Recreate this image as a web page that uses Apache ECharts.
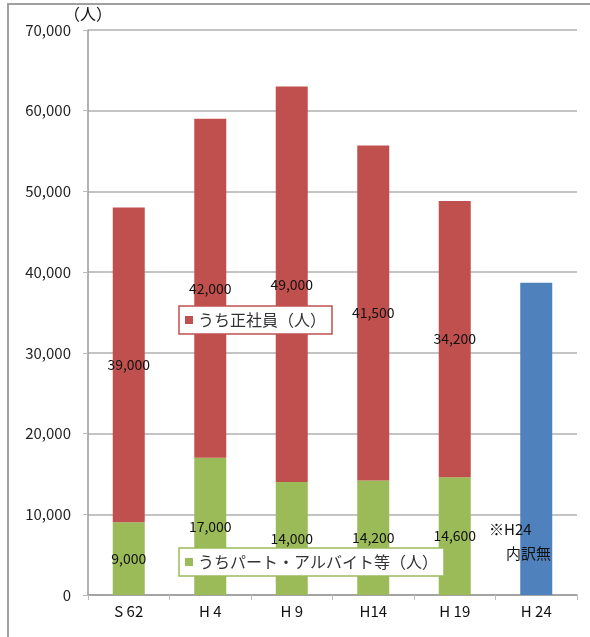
<!DOCTYPE html>
<html>
<head>
<meta charset="utf-8">
<script src="https://cdn.jsdelivr.net/npm/echarts@6/dist/echarts.min.js"></script>
<style>
  html, body { margin: 0; padding: 0; background: #fff; }
  #chart { width: 590px; height: 637px; }
</style>
</head>
<body>
<div id="chart"></div>
<script>
// 年次ラベル
const categories = ['S 62', 'H 4', 'H 9', 'H14', 'H 19', 'H 24']
// うちパート・アルバイト等
const partTime = [9000, 17000, 14000, 14200, 14600, null]
// うち正社員
const regular = [39000, 42000, 49000, 41500, 34200, null]
// H24 は内訳なし（合計のみ）
const totalOnly = [null, null, null, null, null, 38700]
const yTicks = [0, 10000, 20000, 30000, 40000, 50000, 60000, 70000]

const font = "'Noto Sans CJK JP', sans-serif"
const fmt = v => Number(v).toLocaleString('en-US')

const chart = echarts.init(document.getElementById('chart'))

const segLabel = {
  show: true,
  position: 'inside',
  color: '#111',
  fontSize: 14,
  fontFamily: font,
  formatter: p => fmt(p.value)
}

chart.setOption({
  animation: false,
  textStyle: { fontFamily: font },
  grid: { left: 88, right: 13, top: 30, bottom: 42 },
  legend: [{
    data: ['うち正社員（人）'],
    left: 179, top: 306,
    icon: 'rect', itemWidth: 8, itemHeight: 8, itemGap: 4,
    padding: [6, 6, 6, 6],
    backgroundColor: '#fff',
    borderColor: '#C0504D', borderWidth: 1.5,
    textStyle: { fontSize: 16, color: '#333', fontFamily: font }
  }, {
    data: ['うちパート・アルバイト等（人）'],
    left: 179, top: 548,
    icon: 'rect', itemWidth: 8, itemHeight: 8, itemGap: 4,
    padding: [6, 6, 6, 6],
    backgroundColor: '#fff',
    borderColor: '#9BBB59', borderWidth: 1.5,
    textStyle: { fontSize: 16, color: '#333', fontFamily: font }
  }],
  xAxis: {
    type: 'category',
    data: categories,
    axisLine: { lineStyle: { color: '#999', width: 1.5 } },
    axisTick: { show: true, length: 5, lineStyle: { color: '#bbb' } },
    axisLabel: { color: '#111', fontSize: 15, margin: 9, fontFamily: font }
  },
  yAxis: {
    type: 'value',
    min: yTicks[0],
    max: yTicks[yTicks.length - 1],
    interval: 10000,
    name: '（人）',
    nameLocation: 'end',
    nameGap: 8,
    nameTextStyle: { color: '#111', fontSize: 16, fontFamily: font },
    axisLine: { show: true, lineStyle: { color: '#999', width: 1.5 } },
    axisTick: { show: true, length: 5, lineStyle: { color: '#bbb' } },
    axisLabel: { color: '#222', fontSize: 15, margin: 17, fontFamily: font, formatter: v => fmt(v) },
    splitLine: { lineStyle: { color: '#c4c4c4', width: 2 } }
  },
  series: [{
    name: 'うちパート・アルバイト等（人）',
    type: 'bar',
    stack: 'total',
    barWidth: 32,
    itemStyle: { color: '#9BBB59' },
    label: segLabel,
    data: partTime
  }, {
    name: 'うち正社員（人）',
    type: 'bar',
    stack: 'total',
    barWidth: 32,
    itemStyle: { color: '#C0504D' },
    label: segLabel,
    data: regular
  }, {
    name: '合計',
    type: 'bar',
    stack: 'total',
    barWidth: 32,
    itemStyle: { color: '#4F81BD' },
    data: totalOnly
  }],
  graphic: [{
    type: 'rect',
    z: 100,
    shape: { x: 8, y: 4, width: 640, height: 700 },
    style: { fill: 'none', stroke: '#a0a0a0', lineWidth: 2 },
    silent: true
  }, {
    type: 'text',
    z: 100,
    left: 489, top: 522,
    style: { text: '※H24', fontSize: 15, fill: '#111', fontFamily: font }
  }, {
    type: 'text',
    z: 100,
    left: 506, top: 546,
    style: { text: '内訳無', fontSize: 15, fill: '#111', fontFamily: font }
  }]
})
</script>
</body>
</html>
